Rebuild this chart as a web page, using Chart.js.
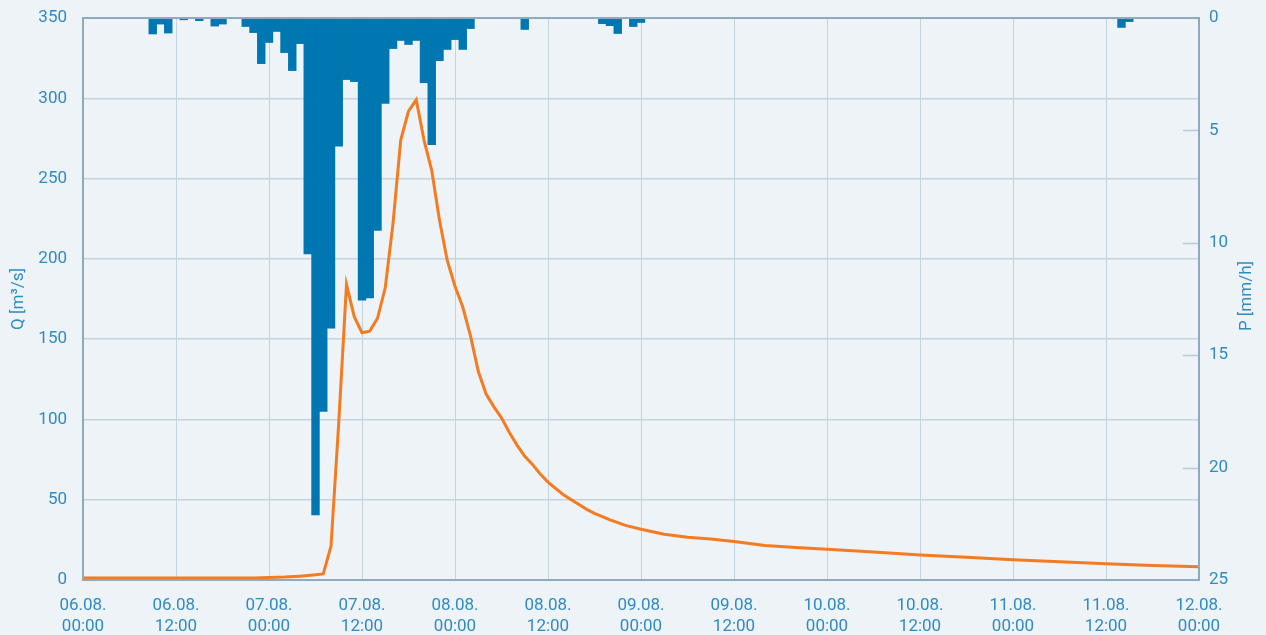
<!DOCTYPE html>
<html>
<head>
<meta charset="utf-8">
<script src="https://cdn.jsdelivr.net/npm/chart.js@4"></script>
<style>
  html, body { margin: 0; padding: 0; background: #edf3f6; }
  canvas { display: block; }
</style>
</head>
<body>
<canvas id="chart" width="1266" height="635"></canvas>
<script>
// hours since 06.08. 00:00
const rainHours = [9, 10, 11, 13, 15, 17, 18, 21, 22, 23, 24, 25, 26, 27, 28, 29, 30, 31, 32, 33, 34, 35, 36, 37, 38, 39, 40, 41, 42, 43, 44, 45, 46, 47, 48, 49, 50, 57, 67, 68, 69, 71, 72, 134, 135];
const rainValues = [0.71, 0.27, 0.67, 0.08, 0.12, 0.36, 0.27, 0.38, 0.65, 2.03, 1.09, 0.6, 1.54, 2.34, 1.14, 10.5, 22.1, 17.5, 13.8, 5.7, 2.74, 2.83, 12.55, 12.45, 9.45, 3.8, 1.36, 1.0, 1.18, 1.0, 2.88, 5.63, 1.9, 1.4, 0.96, 1.4, 0.47, 0.51, 0.25, 0.34, 0.69, 0.38, 0.2, 0.42, 0.16];

const flowHours = [0, 6, 12, 18, 22, 24, 26, 28, 30, 31, 32, 33, 34, 35, 36, 37, 38, 39, 40, 41, 42, 43, 44, 45, 46, 47, 48, 49, 50, 51, 52, 53, 54, 55, 56, 57, 58, 59, 60, 61, 62, 63, 64, 65, 66, 68, 70, 72, 75, 78, 81, 84, 88, 92, 96, 102, 108, 114, 120, 126, 132, 138, 144];
const flowValues = [1.2, 1.2, 1.2, 1.2, 1.3, 1.5, 1.8, 2.4, 3.2, 3.8, 21, 98, 184, 164, 154, 155, 163, 182, 222, 274, 292, 299, 274, 255, 224, 199, 183, 170, 152, 130, 116, 108, 101, 92, 84, 77, 72, 66, 61, 57, 53, 50, 47, 44, 41.5, 37.5, 34, 31.6, 28.5, 26.6, 25.6, 24, 21.5, 20.2, 19.2, 17.4, 15.5, 14.2, 12.6, 11.3, 10.1, 9.1, 8.2];

const qTicks = { min: 0, max: 350, step: 50 };
const pTicks = { min: 0, max: 25, step: 5 };

const textColor = "#2f8bc3";
const gridColor = "#c4d4de";
const frameColor = "#8eaabc";

Chart.defaults.font.family = "Roboto";
Chart.defaults.font.size = 17;
Chart.defaults.color = textColor;

const tickLabel = (h) => {
    const day = String(6 + Math.floor(h / 24)).padStart(2, "0");
    const hour = String(h % 24).padStart(2, "0");
    return [day + ".08.", hour + ":00"];
};

// background, frame, inner ticks and right title
const extras = {
    id: "extras",
    beforeDraw(chart) {
        const ctx = chart.ctx;
        ctx.save();
        ctx.fillStyle = "#edf3f6";
        ctx.fillRect(0, 0, chart.width, chart.height);
        ctx.restore();
    },
    afterDatasetsDraw(chart) {
        const { ctx, chartArea } = chart;
        const p = chart.scales.y2;
        ctx.save();
        ctx.strokeStyle = "#b9cbd7";
        ctx.lineWidth = 1.5;
        for (let v = pTicks.min + pTicks.step; v < pTicks.max; v += pTicks.step) {
            const y = Math.round(p.getPixelForValue(v)) + 0.5;
            ctx.beginPath();
            ctx.moveTo(chartArea.right - 16, y);
            ctx.lineTo(chartArea.right, y);
            ctx.stroke();
        }
        ctx.strokeStyle = frameColor;
        ctx.lineWidth = 2;
        ctx.strokeRect(chartArea.left, chartArea.top, chartArea.right - chartArea.left, chartArea.bottom - chartArea.top);

        ctx.fillStyle = textColor;
        ctx.font = "17px Roboto";
        ctx.textAlign = "center";
        ctx.textBaseline = "middle";
        ctx.translate(1247, (chartArea.top + chartArea.bottom) / 2 - 3);
        ctx.rotate(-Math.PI / 2);
        ctx.fillText("P [mm/h]", 0, 0);
        ctx.restore();
    },
};

const noEdgePadding = (s, w) => {
    s.width = w;
    s.paddingTop = 0;
    s.paddingBottom = 0;
};

new Chart(document.getElementById("chart"), {
    type: "line",
    data: {
        datasets: [
            {
                type: "line",
                label: "Q",
                data: flowHours.map((h, i) => ({ x: h, y: flowValues[i] })),
                borderColor: "#f47b20",
                borderWidth: 3,
                pointRadius: 0,
                tension: 0,
                yAxisID: "y",
                order: 0,
            },
            {
                type: "bar",
                label: "P",
                data: rainHours.map((h, i) => ({ x: h, y: rainValues[i] })),
                backgroundColor: "#0077b0",
                borderWidth: 0,
                barPercentage: 1,
                categoryPercentage: 1,
                yAxisID: "y2",
                order: 1,
            },
        ],
    },
    options: {
        responsive: false,
        animation: false,
        layout: { padding: { top: 18, left: 0, right: 0, bottom: 0 } },
        plugins: {
            legend: { display: false },
            tooltip: { enabled: false },
        },
        scales: {
            x: {
                type: "linear",
                min: 0,
                max: 144,
                offset: false,
                grid: { color: gridColor, lineWidth: 1, drawTicks: false, offset: false },
                border: { display: false },
                ticks: {
                    stepSize: 12,
                    padding: 15,
                    maxRotation: 0,
                    autoSkip: false,
                    font: { size: 17, lineHeight: 1.25 },
                    callback: (v) => tickLabel(v),
                },
                afterFit: (s) => { s.height = 55; },
            },
            y: {
                position: "left",
                min: qTicks.min,
                max: qTicks.max,
                grid: { color: gridColor, lineWidth: 1.5, drawTicks: false },
                border: { display: false },
                ticks: { stepSize: qTicks.step, padding: 16 },
                title: {
                    display: true,
                    text: "Q [m³/s]",
                    font: { size: 17 },
                    padding: { top: 9, bottom: 0 },
                },
                afterFit: (s) => noEdgePadding(s, 83),
            },
            y2: {
                position: "right",
                min: pTicks.min,
                max: pTicks.max,
                reverse: true,
                grid: { drawOnChartArea: false, drawTicks: false },
                border: { display: false },
                ticks: { stepSize: pTicks.step, padding: 10 },
                afterFit: (s) => noEdgePadding(s, 67),
            },
        },
    },
    plugins: [extras],
});
</script>
</body>
</html>
